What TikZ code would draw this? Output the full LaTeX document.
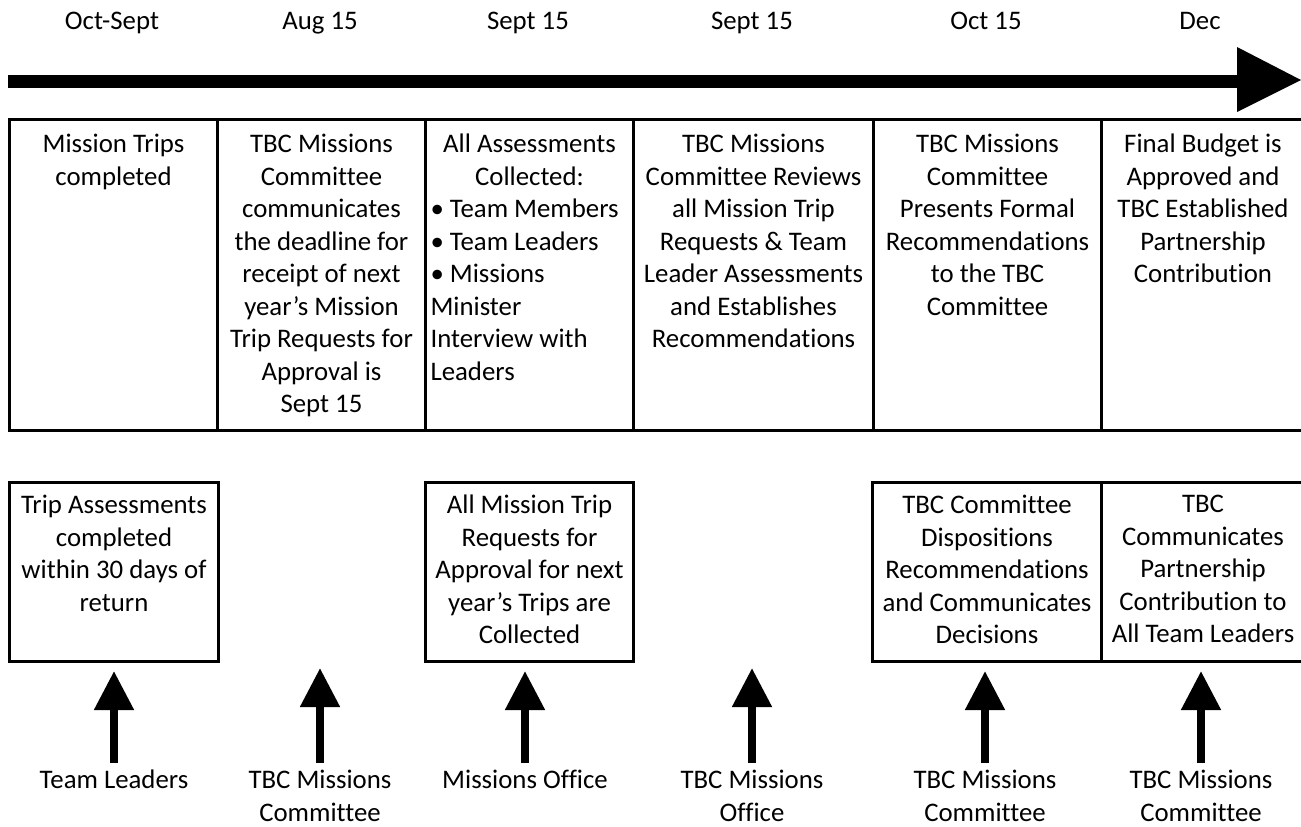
\documentclass[tikz,border=0pt]{standalone}
\usepackage{fontspec}
\setmainfont{Carlito}[Ligatures=NoCommon]
\usetikzlibrary{arrows.meta}
\begin{document}
\begin{tikzpicture}[x=1pt,y=-1pt,
  txt/.style={font=\fontsize{26.8pt}{32.5pt}\selectfont, align=center, inner sep=0pt},
  cell/.style={draw, line width=3pt, minimum width=#1, minimum height=311pt, anchor=north west, inner sep=0pt},
  sbox/.style={draw, line width=3pt, minimum width=#1, minimum height=179pt, anchor=north west, inner sep=0pt},
  uparr/.style={line width=8pt, -{Triangle[length=39pt,width=38pt]}, shorten <=7pt}]
\useasboundingbox (0,0) rectangle (1301,827);

% dates
\node[txt, anchor=base] (d1) at (112,29) {Oct-Sept};
\node[txt, anchor=base] (d2) at (320,29) {Aug 15};
\node[txt, anchor=base] (d3) at (528,29) {Sept 15};
\node[txt, anchor=base] (d4) at (752,29) {Sept 15};
\node[txt, anchor=base] (d5) at (986,29) {Oct 15};
\node[txt, anchor=base] (d6) at (1200,29) {Dec};

% timeline arrow
\fill (8,74.5) rectangle (1238,87.5);
\fill (1237,47) -- (1301,80) -- (1237,112) -- cycle;

% table cells
\node[cell=208pt] (c1) at (8,118) {};
\node[cell=208pt] (c2) at (216,118) {};
\node[cell=208pt] (c3) at (424,118) {};
\node[cell=240pt] (c4) at (632,118) {};
\node[cell=228pt] (c5) at (872,118) {};
\node[cell=203pt] (c6) at (1100,118) {};

\node[txt, anchor=north] (t1) at ([yshift=-16pt]c1.north) {Mission Trips\\completed};
\node[txt, anchor=north] (t2) at ([yshift=-16pt]c2.north) {TBC Missions\\Committee\\communicates\\the deadline for\\receipt of next\\year’s Mission\\Trip Requests for\\Approval is\\Sept 15};
\node[txt, anchor=north, align=left] (t3) at ([yshift=-16pt]c3.north)
  {\makebox[198pt][c]{All Assessments}\\\makebox[198pt][c]{Collected:}\\\makebox[198pt][l]{• Team Members}\\\makebox[198pt][l]{• Team Leaders}\\\makebox[198pt][l]{• Missions}\\\makebox[198pt][l]{Minister}\\\makebox[198pt][l]{Interview with}\\\makebox[198pt][l]{Leaders}};
\node[txt, anchor=north] (t4) at ([yshift=-16pt]c4.north) {TBC Missions\\Committee Reviews\\all Mission Trip\\Requests \& Team\\Leader Assessments\\and Establishes\\Recommendations};
\node[txt, anchor=north] (t5) at ([yshift=-16pt]c5.north) {TBC Missions\\Committee\\Presents Formal\\Recommendations\\to the TBC\\Committee};
\node[txt, anchor=north] (t6) at ([yshift=-16pt]c6.north) {Final Budget is\\Approved and\\TBC Established\\Partnership\\Contribution};

% lower boxes
\node[sbox=209pt] (b1) at (8,481) {};
\node[sbox=208pt] (b2) at (424,481) {};
\node[sbox=229pt] (b3) at (871,481) {};
\node[sbox=203pt] (b4) at (1100,481) {};

\node[txt, anchor=north] (s1) at ([yshift=-14pt]b1.north) {Trip Assessments\\completed\\within 30 days of\\return};
\node[txt, anchor=north] (s2) at ([yshift=-14pt]b2.north) {All Mission Trip\\Requests for\\Approval for next\\year’s Trips are\\Collected};
\node[txt, anchor=north] (s3) at ([yshift=-14pt]b3.north) {TBC Committee\\Dispositions\\Recommendations\\and Communicates\\Decisions};
\node[txt, anchor=north] (s4) at ([yshift=-14pt]b4.north) {TBC\\Communicates\\Partnership\\Contribution to\\All Team Leaders};

% bottom labels
\node[txt, anchor=north] (l1) at (114,770) {Team Leaders};
\node[txt, anchor=north] (l2) at (320,770) {TBC Missions\\Committee};
\node[txt, anchor=north] (l3) at (525,770) {Missions Office};
\node[txt, anchor=north] (l4) at (752,770) {TBC Missions\\Office};
\node[txt, anchor=north] (l5) at (985,770) {TBC Missions\\Committee};
\node[txt, anchor=north] (l6) at (1201,770) {TBC Missions\\Committee};

\coordinate (f2) at (320,668);
\coordinate (f4) at (752,668);

\draw[uparr, shorten >=8pt] (l1.north) -- (l1.north |- b1.south);
\draw[uparr] (l2.north) -- (f2);
\draw[uparr, shorten >=8pt] (l3.north) -- (l3.north |- b2.south);
\draw[uparr] (l4.north) -- (f4);
\draw[uparr, shorten >=8pt] (l5.north) -- (l5.north |- b3.south);
\draw[uparr, shorten >=8pt] (l6.north) -- (l6.north |- b4.south);
\end{tikzpicture}
\end{document}
